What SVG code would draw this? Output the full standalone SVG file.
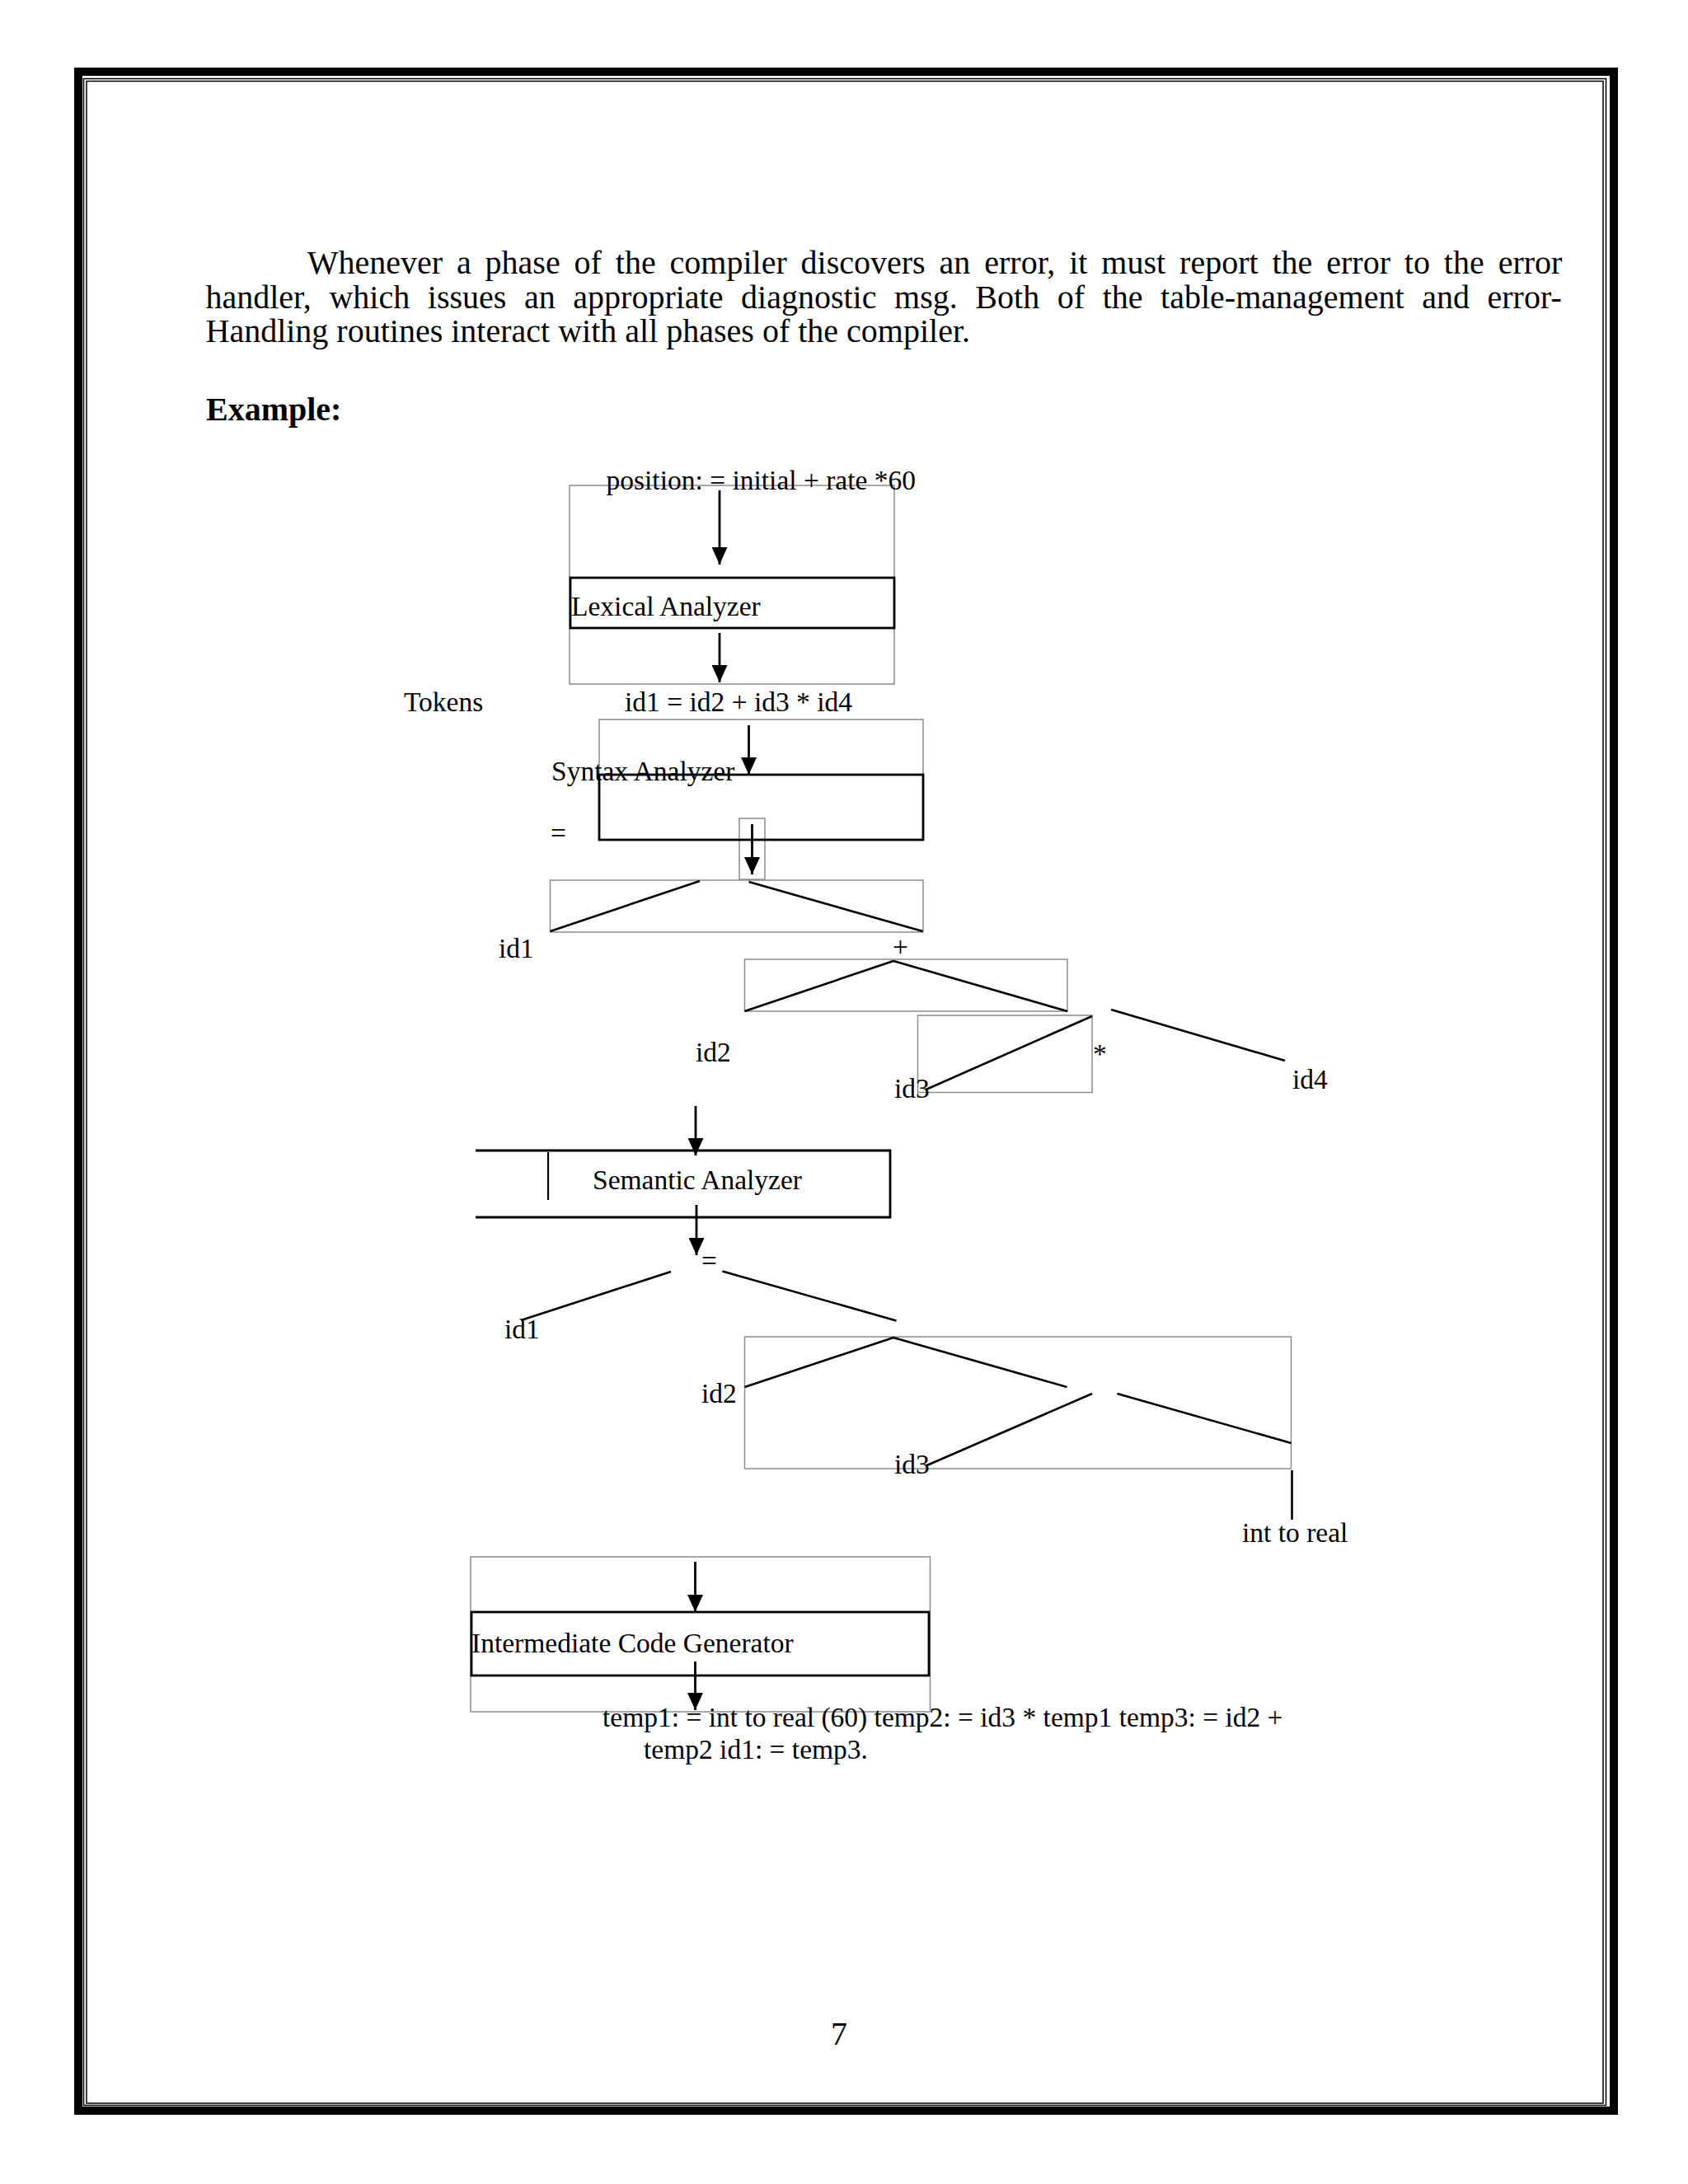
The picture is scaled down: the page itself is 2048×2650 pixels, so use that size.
<svg xmlns="http://www.w3.org/2000/svg" width="2048" height="2650" viewBox="0 0 2048 2650">
<style>
.body{font-family:"Liberation Serif","Times New Roman",serif;font-size:40px;fill:#000}
.bold{font-weight:bold}
.lbl{font-family:"Liberation Serif","Times New Roman",serif;font-size:33.5px;fill:#000}
.grey{fill:none;stroke:#8c8c8c;stroke-width:1.5}
.box{fill:none;stroke:#000;stroke-width:2.8}
.edge{fill:none;stroke:#000;stroke-width:2.6}
.arrow{fill:none;stroke:#000;stroke-width:2.8;marker-end:url(#ah)}
</style>
<defs>
<marker id="ah" markerUnits="userSpaceOnUse" markerWidth="21" markerHeight="19" refX="21" refY="9.5" orient="auto">
<path d="M0,0 L21,9.5 L0,19 z" fill="#000"/>
</marker>
</defs>
<rect width="2048" height="2650" fill="#fff"/>
<g id="page-border">
<rect x="95" y="87" width="1863" height="2474" fill="none" stroke="#000" stroke-width="10"/>
<rect x="101.5" y="95.5" width="1847" height="2459" fill="none" stroke="#000" stroke-width="1.5"/>
<rect x="105" y="98.5" width="1840" height="2453.5" fill="none" stroke="#000" stroke-width="1.5"/>
</g>
<g id="paragraph">
<text class="body" x="372.7" y="332" word-spacing="6.9">Whenever a phase of the compiler discovers an error, it must report the error to the error</text>
<text class="body" x="249.5" y="373.5" word-spacing="11.6">handler, which issues an appropriate diagnostic msg. Both of the table-management and error-</text>
<text class="body" x="249.5" y="415">Handling routines interact with all phases of the compiler.</text>
<text class="body bold" x="250" y="510">Example:</text>
</g>
<g id="grey-frames">
<rect class="grey" x="691" y="589" width="394" height="241"/>
<rect class="grey" x="727" y="873" width="393" height="146"/>
<rect class="grey" x="897" y="993" width="31" height="74"/>
<rect class="grey" x="667.5" y="1068" width="452.5" height="63"/>
<rect class="grey" x="903.5" y="1164" width="391.5" height="63"/>
<rect class="grey" x="1113.5" y="1232" width="211.5" height="93.5"/>
<rect class="grey" x="903.5" y="1622" width="663" height="160"/>
<rect class="grey" x="571" y="1889" width="557.5" height="188"/>
</g>
<g id="source">
<text class="lbl" x="735.5" y="594">position: = initial + rate *60</text>
</g>
<g id="lexical-analyzer">
<rect class="box" x="692" y="701" width="393" height="61"/>
<text class="lbl" x="693" y="747">Lexical Analyzer</text>
</g>
<g id="tokens">
<text class="lbl" x="490" y="863">Tokens</text>
<text class="lbl" x="758" y="863">id1 = id2 + id3 * id4</text>
</g>
<g id="syntax-analyzer">
<rect class="box" x="727" y="940" width="393" height="79"/>
<text class="lbl" x="669" y="947">Syntax Analyzer</text>
</g>
<g id="syntax-tree">
<text class="lbl" x="668" y="1022">=</text>
<text class="lbl" x="605" y="1162">id1</text>
<text class="lbl" x="1083" y="1160">+</text>
<text class="lbl" x="844" y="1288">id2</text>
<text class="lbl" x="1326" y="1290">*</text>
<text class="lbl" x="1085" y="1332">id3</text>
<text class="lbl" x="1568" y="1321">id4</text>
</g>
<g id="semantic-analyzer">
<path class="box" d="M577,1396 H1080 V1477 H577"/>
<line x1="665" y1="1398" x2="665" y2="1456" stroke="#000" stroke-width="2.2"/>
<text class="lbl" x="719" y="1443">Semantic Analyzer</text>
</g>
<g id="semantic-tree">
<text class="lbl" x="851" y="1541">=</text>
<text class="lbl" x="612" y="1624">id1</text>
<text class="lbl" x="851" y="1702">id2</text>
<text class="lbl" x="1085" y="1788">id3</text>
<text class="lbl" x="1507" y="1871">int to real</text>
</g>
<g id="intermediate-code-generator">
<rect class="box" x="572" y="1956" width="555" height="77"/>
<text class="lbl" x="572" y="2005">Intermediate Code Generator</text>
</g>
<g id="intermediate-code">
<text class="lbl" x="731" y="2095">temp1: = int to real (60) temp2: = id3 * temp1 temp3: = id2 +</text>
<text class="lbl" x="781" y="2134">temp2 id1: = temp3.</text>
</g>
<g id="connectors">
<line class="arrow" x1="873" y1="595" x2="873" y2="685"/>
<line class="arrow" x1="873" y1="768" x2="873" y2="828"/>
<line class="arrow" x1="908.5" y1="880" x2="908.5" y2="940"/>
<line class="arrow" x1="912.5" y1="1000" x2="912.5" y2="1061"/>
<line class="arrow" x1="844" y1="1342" x2="844" y2="1402"/>
<line class="arrow" x1="845" y1="1462" x2="845" y2="1523"/>
<line class="arrow" x1="843.5" y1="1895" x2="843.5" y2="1956"/>
<line class="arrow" x1="843.5" y1="2016" x2="843.5" y2="2075"/>
<line class="edge" x1="667.5" y1="1130" x2="849" y2="1069"/>
<line class="edge" x1="908.5" y1="1070" x2="1119.5" y2="1130"/>
<line class="edge" x1="903.5" y1="1227" x2="1084" y2="1166"/>
<line class="edge" x1="1084" y1="1166" x2="1295" y2="1227"/>
<line class="edge" x1="1325" y1="1233" x2="1123.5" y2="1322"/>
<line class="edge" x1="1348" y1="1225" x2="1559" y2="1287"/>
<line class="edge" x1="814" y1="1543" x2="632" y2="1602"/>
<line class="edge" x1="876.5" y1="1542.5" x2="1087.5" y2="1602.5"/>
<line class="edge" x1="903.5" y1="1683" x2="1084" y2="1623"/>
<line class="edge" x1="1084" y1="1623" x2="1294.5" y2="1683"/>
<line class="edge" x1="1325" y1="1691" x2="1123.5" y2="1778.5"/>
<line class="edge" x1="1355.5" y1="1691" x2="1566.5" y2="1751"/>
<line class="edge" x1="1567.5" y1="1784" x2="1567.5" y2="1844"/>
</g>
<g id="page-number">
<text class="body" x="1018" y="2481" font-size="37" text-anchor="middle">7</text>
</g>
</svg>
